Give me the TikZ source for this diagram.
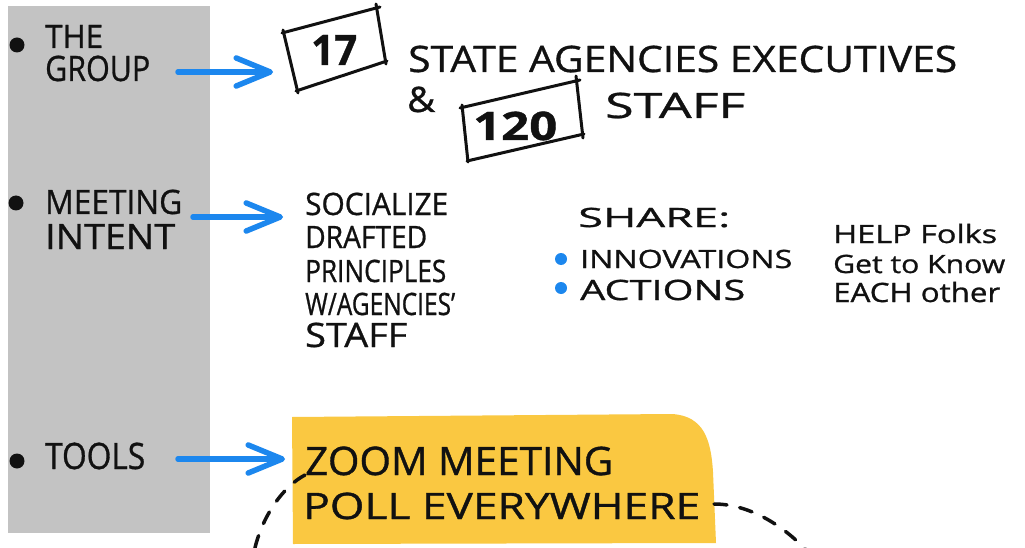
\documentclass[tikz,border=0pt]{standalone}
\usepackage{fontspec}
\setmainfont{Open Sans}[FakeBold=0.9]
\usepackage{graphicx}
\usetikzlibrary{arrows.meta}
\definecolor{panelgray}{HTML}{C3C3C3}
\definecolor{notegold}{HTML}{FAC841}
\definecolor{penblue}{HTML}{1C87EE}
\definecolor{ink}{HTML}{111111}
% squeeze a line into a given width and cap height (in pt)
\newcommand{\hand}[3]{\resizebox{#1pt}{#2pt}{\vphantom{H}\smash{#3}}}
\begin{document}
\begin{tikzpicture}[x=1pt,y=-1pt,
  lbl/.style={anchor=base west, inner sep=0pt, text=ink},
  flow/.style={penblue, line width=5.5pt, line cap=round,
    -{Straight Barb[length=34pt,width=28pt,line width=5.5pt,round]}},
  pen/.style={ink, line width=3pt, line cap=round},
  dots/.style={ink, line width=3.5pt, line cap=round, dash pattern=on 13pt off 13pt},
  bulletdot/.style={fill=ink, draw=none},
  bluedot/.style={fill=penblue, draw=none}]
\useasboundingbox (0,0) rectangle (1025,548);
\fill[white] (0,0) rectangle (1025,548);

% left panel
\fill[panelgray] (8,6) rectangle (210,533);

% bullets of the panel
\fill[bulletdot] (17,45) circle (7.5);
\fill[bulletdot] (16,203) circle (7.5);
\fill[bulletdot] (17,461) circle (7.5);

% panel headings
\node[lbl] (the) at (45,48) {\hand{58}{23}{THE}};
\node[lbl] (group) at (45,81) {\hand{105}{25}{GROUP}};
\node[lbl] (meeting) at (45,214) {\hand{137}{24}{MEETING}};
\node[lbl] (intent) at (45,249) {\hand{130}{25}{INTENT}};
\node[lbl] (tools) at (45,469) {\hand{100}{26}{TOOLS}};

% the group
\node[lbl] (seventeen) at (311,65) {\hand{46}{30}{\bfseries 17}};
\draw[pen] (282,33) -- (380,7);
\draw[pen] (376,4) -- (386,64);
\draw[pen] (296,91) -- (387,61);
\draw[pen] (283,30) -- (298,93);
\node[lbl] (state) at (408,72) {\hand{549}{26}{STATE AGENCIES EXECUTIVES}};
\node[lbl] (amp) at (407,112) {\hand{28}{25}{\&}};
\node[lbl] (onetwenty) at (473,140) {\hand{84}{28}{\bfseries 120}};
\draw[pen] (460,108) -- (580,80);
\draw[pen] (576,76) -- (583,138);
\draw[pen] (467,161) -- (584,134);
\draw[pen] (462,105) -- (468,162);
\node[lbl] (staffa) at (605,118) {\hand{140}{25}{STAFF}};

% meeting intent
\node[lbl] (soc) at (305,215) {\hand{143}{22}{SOCIALIZE}};
\node[lbl] (dra) at (305,248) {\hand{122}{22}{DRAFTED}};
\node[lbl] (pri) at (305,282) {\hand{141}{22}{PRINCIPLES}};
\node[lbl] (wag) at (305,315) {\hand{150}{22}{W/AGENCIES'}};
\node[lbl] (stf) at (305,347) {\hand{102}{24}{STAFF}};

\node[lbl] (share) at (578,227) {\hand{152}{19}{SHARE:}};
\fill[bluedot] (561,259) circle (6);
\fill[bluedot] (561,288) circle (6);
\node[lbl] (innov) at (580,268) {\hand{212}{18}{INNOVATIONS}};
\node[lbl] (act) at (580,300) {\hand{165}{20}{ACTIONS}};

\node[lbl] (help) at (833,243) {\hand{164}{18}{HELP Folks}};
\node[lbl] (gett) at (833,273) {\hand{172}{18}{Get to Know}};
\node[lbl] (each) at (833,302) {\hand{167}{19}{EACH other}};

% tools
\fill[notegold] (292,417) -- (672,414)
  .. controls (704,416) and (711,440) .. (713,472)
  -- (716,543) -- (293,544) -- cycle;
\draw[dots] (305,475) .. controls (284,486) and (262,515) .. (254,552);
\draw[dots] (714,504) .. controls (748,504) and (782,524) .. (808,552);
\node[lbl] (zoom) at (305,475) {\hand{308}{28}{ZOOM MEETING}};
\node[lbl] (poll) at (303,519) {\hand{397}{26}{POLL EVERYWHERE}};

% arrows from the panel
\coordinate (a1s) at (178,72);
\coordinate (a1e) at (273,72);
\coordinate (a2s) at (193,217);
\coordinate (a2e) at (283,217);
\coordinate (a3s) at (178,459);
\coordinate (a3e) at (285,459);
\draw[flow] (a1s) -- (a1e);
\draw[flow] (a2s) -- (a2e);
\draw[flow] (a3s) -- (a3e);
\end{tikzpicture}
\end{document}
